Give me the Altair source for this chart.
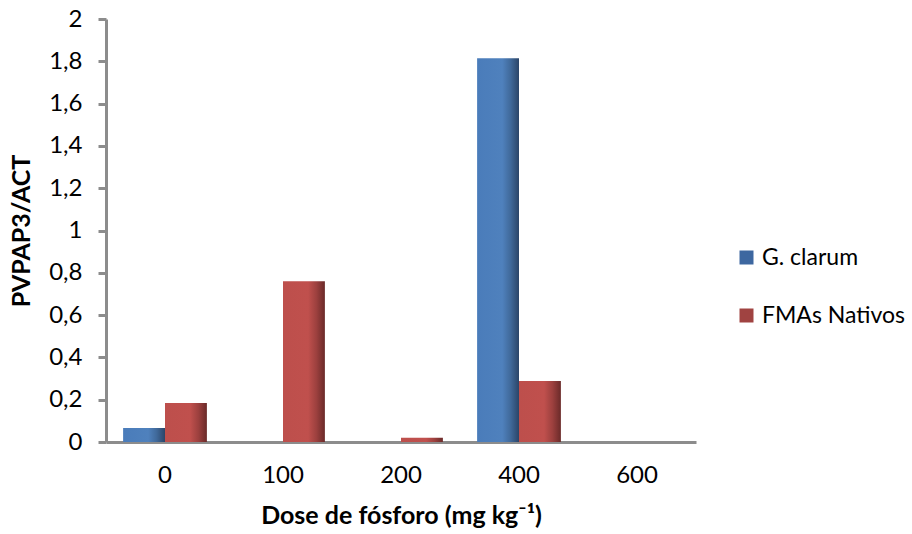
import altair as alt
import pandas as pd

doses = ["0", "100", "200", "400", "600"]
g_clarum = [0.066, 0.0, 0.0, 1.815, 0.0]
fmas_nativos = [0.184, 0.76, 0.02, 0.288, 0.0]
series = ["G. clarum", "FMAs Nativos"]

rows = []
for d, a, b in zip(doses, g_clarum, fmas_nativos):
    rows.append({"dose": d, "serie": series[0], "valor": a})
    rows.append({"dose": d, "serie": series[1], "valor": b})
df = pd.DataFrame(rows)

font = "Lato"
axis_gray = "#8c8c8c"

blue_grad = alt.Gradient(
    gradient="linear", x1=0, x2=1, y1=0, y2=0,
    stops=[alt.GradientStop(offset=0, color="#4a7cba"),
           alt.GradientStop(offset=0.6, color="#4f81bd"),
           alt.GradientStop(offset=0.8, color="#40699a"),
           alt.GradientStop(offset=1, color="#2b4568")])
red_grad = alt.Gradient(
    gradient="linear", x1=0, x2=1, y1=0, y2=0,
    stops=[alt.GradientStop(offset=0, color="#bd4f4c"),
           alt.GradientStop(offset=0.6, color="#c0504d"),
           alt.GradientStop(offset=0.8, color="#9c403e"),
           alt.GradientStop(offset=1, color="#6a2a29")])

x_enc = alt.X("dose:N", sort=doses,
              scale=alt.Scale(paddingInner=0.29, paddingOuter=0.145),
              axis=alt.Axis(title="Dose de fósforo (mg kg⁻¹)", labelAngle=0,
                            ticks=False, labelPadding=21, titlePadding=16))
xo_enc = alt.XOffset("serie:N", sort=series, scale=alt.Scale(domain=series, paddingInner=0, paddingOuter=0))
y_enc = alt.Y("valor:Q", scale=alt.Scale(domain=[0, 2], nice=False),
              axis=alt.Axis(title="PVPAP3/ACT", values=[0, 0.2, 0.4, 0.6, 0.8, 1, 1.2, 1.4, 1.6, 1.8, 2],
                            labelExpr="replace(format(datum.value, '~g'), '.', ',')",
                            grid=False, tickSize=8, labelPadding=16, titlePadding=14))

base = alt.Chart(df)
bars_g = base.transform_filter(alt.datum.serie == series[0]).mark_bar(color=blue_grad).encode(
    x=x_enc, xOffset=xo_enc, y=y_enc)
bars_f = base.transform_filter(alt.datum.serie == series[1]).mark_bar(color=red_grad).encode(
    x=x_enc, xOffset=xo_enc, y=y_enc)

legend_layer = base.mark_point(filled=True, opacity=0, size=0).encode(
    color=alt.Color("serie:N", sort=series,
                    scale=alt.Scale(domain=series, range=["#3d67a0", "#a04341"]),
                    legend=alt.Legend(title=None, orient="none", legendX=629, legendY=227,
                                      symbolType="square", symbolSize=196, symbolOpacity=1,
                                      symbolStrokeWidth=0, labelFontSize=23, labelFont=font,
                                      labelColor="#000000", rowPadding=34, labelOffset=4))
)

chart = alt.layer(bars_g, bars_f, legend_layer).properties(
    width=590, height=423,
    autosize=alt.AutoSizeParams(type="none"),
    padding={"left": 106, "top": 19, "right": 216, "bottom": 92},
).configure_view(stroke=None).configure_axis(
    domainColor=axis_gray, domainWidth=3, tickColor=axis_gray, tickWidth=3,
    labelFont=font, labelFontSize=24, labelColor="#000000",
    titleFont=font, titleFontSize=25, titleFontWeight="bold", titleColor="#000000",
)

chart.save("out.html", embed_options={"renderer": "svg", "actions": False})
